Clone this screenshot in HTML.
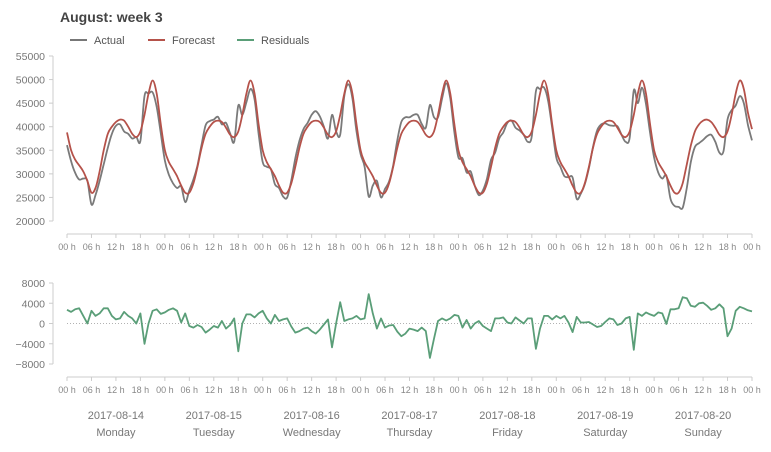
<!DOCTYPE html>
<html><head><meta charset="utf-8"><style>
body{margin:0;background:#fff;width:771px;height:447px;overflow:hidden;font-family:"Liberation Sans",sans-serif}
svg text{font-family:"Liberation Sans",sans-serif}
</style></head><body>
<svg id="c" width="771" height="447"></svg>
<script>
const days=["2017-08-14","2017-08-15","2017-08-16","2017-08-17","2017-08-18","2017-08-19","2017-08-20"];
const weekdays=["Monday","Tuesday","Wednesday","Thursday","Friday","Saturday","Sunday"];
const hourTicks=["00 h","06 h","12 h","18 h"];
const yTicksTop=[20000,25000,30000,35000,40000,45000,50000,55000];
const yTicksRes=[-8000,-4000,0,4000,8000];
const forecast=[
38800,35000,33000,31800,30500,28500,26000,27000,30500,35000,38500,40000,41000,41500,41300,40000,38500,37800,39000,42500,47000,49800,47000,40500,
35000,32500,31000,29500,27500,26000,26000,28000,31500,35500,38500,40000,41000,41300,41000,39800,38300,37800,39000,42500,47000,49800,47000,40500,
35000,32500,31000,29500,27500,26000,26000,28000,31500,35500,38500,40000,41000,41300,41000,39800,38300,37800,39000,42500,47000,49800,47000,40500,
35000,32500,31000,29500,27500,26000,26000,28000,31500,35500,38500,40000,41000,41300,41000,39800,38300,37800,39000,42500,47000,49800,47000,40500,
35000,32500,31000,29500,27500,26000,26000,28000,31500,35500,38500,40000,41000,41300,41000,39800,38300,37800,39000,42500,47000,49800,47000,40500,
35000,32500,31000,29500,27500,26000,26000,28000,31500,35500,38500,40000,41000,41300,41000,39800,38300,37800,39000,42500,47000,49800,47000,40500,
35000,32500,31000,29500,27500,26000,26000,28000,32000,36000,39000,40500,41300,41500,41000,39800,38300,37800,39000,42500,47000,49800,48000,43000,
39500];
const residuals=[
2700,2300,2800,3000,1500,0,2500,1500,2000,3000,3000,1500,800,1000,2300,1500,1000,0,2000,-4000,0,2500,2800,1900,
2200,2700,3000,2500,200,2000,-500,-800,-300,-700,-1800,-1200,-500,-800,500,-1000,-300,1000,-5500,0,1800,1800,1200,2000,
2500,1000,0,1700,500,800,1000,-600,-1800,-1500,-1000,-800,-1500,-2000,-1200,-200,800,-4700,0,4200,500,800,1000,1500,
800,1000,5800,2000,-1000,1000,-800,-400,-300,-1600,-2500,-2000,-1000,-1200,-1500,-800,-1500,-6800,-3000,500,1000,600,1000,1700,
1500,-800,700,-1000,0,500,-500,-1000,-1500,1000,1000,1200,200,0,1200,600,0,1000,1000,-5000,-1000,1500,1500,800,
1500,1000,1500,200,-1700,1300,200,200,300,-200,-700,-500,300,1000,800,-300,0,1000,1300,-5200,2000,1500,2200,1800,
1500,2200,2000,-100,2800,2800,3000,5200,5000,3500,3300,4000,4100,3500,2700,3000,3800,3000,-2500,-1000,2500,3300,3000,2600,
2400];
const actual=forecast.map((f,i)=>f-residuals[i]);

const NS="http://www.w3.org/2000/svg";
const svg=document.getElementById('c');
function mk(t,a,p){const e=document.createElementNS(NS,t);for(const k in a)e.setAttribute(k,a[k]);(p||svg).appendChild(e);return e;}
const X0=67,X1=752;
const x=i=>X0+(X1-X0)*i/168;
const yTop=v=>56+(55000-v)*(165/35000);
const yRes=v=>323.5-v*(40.5/8000);

const title=mk('text',{x:60,y:22,'font-size':14,'font-weight':'bold',fill:'#444'});title.textContent='August: week 3';


const leg=[["Actual","#777",70],["Forecast","#b5524a",148],["Residuals","#5a9e78",237]];
leg.forEach(l=>{const g=mk('g',{});


mk('line',{x1:l[2],x2:l[2]+17,y1:40,y2:40,stroke:l[1],'stroke-width':2},g);
const t=mk('text',{x:l[2]+24,y:44,'font-size':11,fill:'#555'},g);t.textContent=l[0];});

function yAxis(ticks,f,x0,name){const g=mk('g',{});


mk('line',{x1:x0,x2:x0,y1:f(ticks[ticks.length-1]),y2:f(ticks[0]),stroke:'#ccc'},g);
ticks.forEach(v=>{mk('line',{x1:x0-4,x2:x0,y1:f(v),y2:f(v),stroke:'#ccc'},g);
const t=mk('text',{x:x0-8,y:f(v)+4,'font-size':10.5,fill:'#777','text-anchor':'end'},g);t.textContent=(v<0?'\u2212'+(-v):v);});}
yAxis(yTicksTop,yTop,53,'y-axis-top');
yAxis(yTicksRes,yRes,53,'y-axis-residuals');

function xAxis(yl,name){const g=mk('g',{});


mk('line',{x1:X0,x2:X1,y1:yl,y2:yl,stroke:'#ccc'},g);
for(let k=0;k<=28;k++){const xx=x(k*6);mk('line',{x1:xx,x2:xx,y1:yl,y2:yl+4,stroke:'#ccc'},g);
const t=mk('text',{x:xx,y:yl+16,'font-size':9,fill:'#888','text-anchor':'middle'},g);t.textContent=hourTicks[k%4];}}
xAxis(234,'x-axis-top');
xAxis(377,'x-axis-residuals');

days.forEach((d,i)=>{const cx=x(i*24+12);
const t=mk('text',{x:cx,y:419,'font-size':11,fill:'#777','text-anchor':'middle'});t.textContent=d;


const w=mk('text',{x:cx,y:436,'font-size':11,fill:'#777','text-anchor':'middle'});w.textContent=weekdays[i];

});

const zl=mk('line',{x1:X0,x2:X1,y1:yRes(0),y2:yRes(0),stroke:'#999','stroke-dasharray':'1,2','stroke-width':0.8});



function smoothPath(pts){let d='M'+pts[0][0].toFixed(1)+','+pts[0][1].toFixed(1);
for(let i=0;i<pts.length-1;i++){const p0=pts[Math.max(0,i-1)],p1=pts[i],p2=pts[i+1],p3=pts[Math.min(pts.length-1,i+2)];
const c1x=p1[0]+(p2[0]-p0[0])/6,c1y=p1[1]+(p2[1]-p0[1])/6,c2x=p2[0]-(p3[0]-p1[0])/6,c2y=p2[1]-(p3[1]-p1[1])/6;
d+='C'+c1x.toFixed(1)+','+c1y.toFixed(1)+' '+c2x.toFixed(1)+','+c2y.toFixed(1)+' '+p2[0].toFixed(1)+','+p2[1].toFixed(1);}
return d;}
function line(arr,f,col,name,sm){const pts=arr.map((v,i)=>[x(i),f(v)]);
const p=mk('path',{d:sm?smoothPath(pts):pts.map((q,i)=>(i?'L':'M')+q[0].toFixed(1)+','+q[1].toFixed(1)).join(''),fill:'none',stroke:col,'stroke-width':1.8,'stroke-linejoin':'round'});

}
line(actual,yTop,'#7a7a7a','actual-line',true);
line(forecast,yTop,'#b5524a','forecast-line',true);
line(residuals,yRes,'#5a9e78','residuals-line',false);
</script></body></html>
